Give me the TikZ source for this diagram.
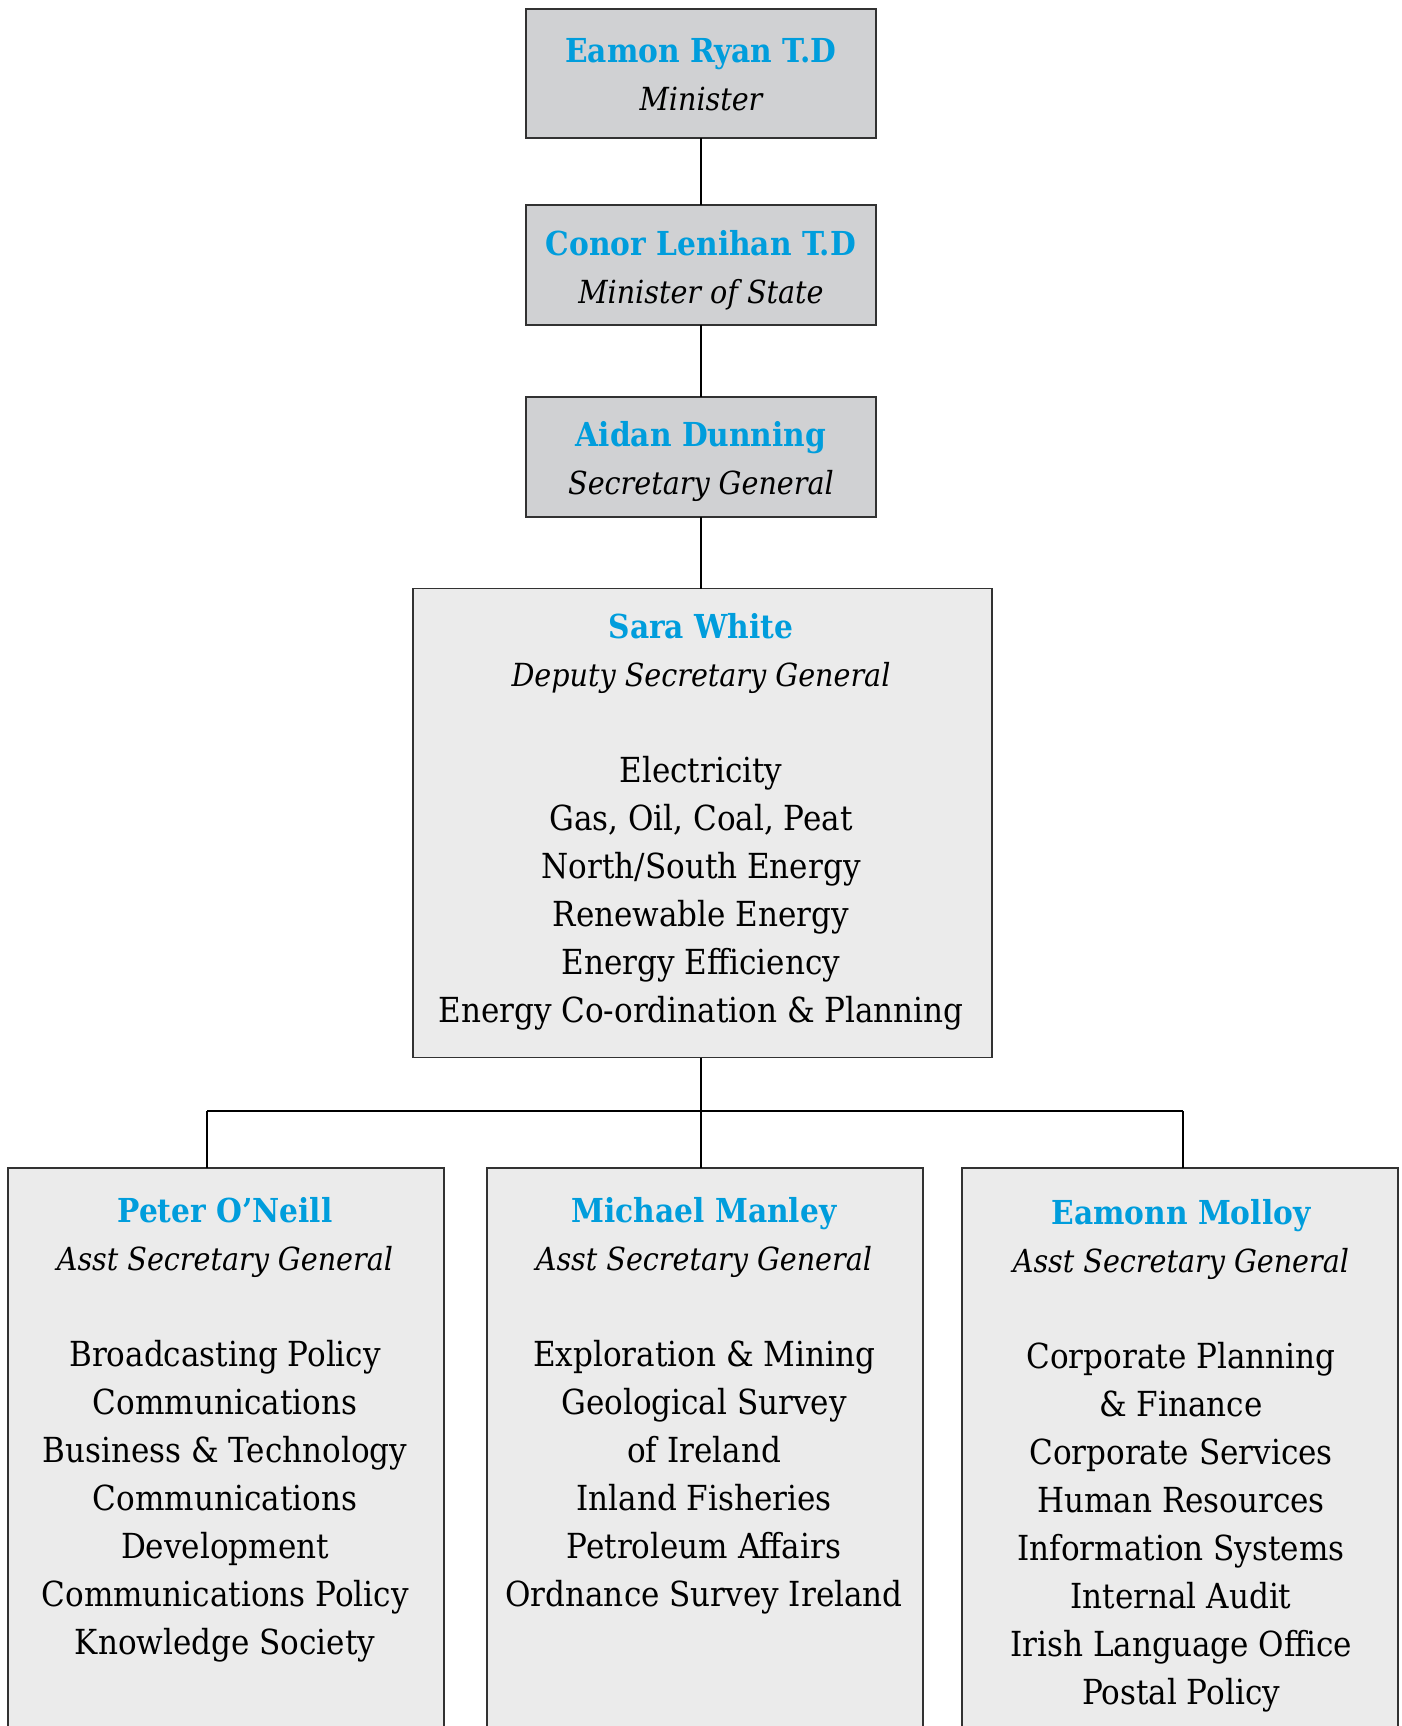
\documentclass[tikz,border=0pt]{standalone}
\usepackage{fontspec}
\setmainfont{DejaVu Serif Condensed}
\definecolor{nameblue}{RGB}{0,157,220}
\definecolor{topgray}{RGB}{208,209,211}
\definecolor{lowgray}{RGB}{235,235,235}
\definecolor{edgegray}{RGB}{50,50,50}
\newcommand\nm[1]{{\fontsize{33}{48}\selectfont\bfseries\color{nameblue}#1}}
\newcommand\ttl[1]{{\fontsize{31.8}{48}\selectfont\itshape #1}}
\begin{document}
\begin{tikzpicture}[x=1pt,y=-1pt,
  box/.style={draw=edgegray,line width=1.6pt,inner sep=0pt,outer sep=0pt},
  topbox/.style={box,fill=topgray},
  lowbox/.style={box,fill=lowgray},
  txt/.style={anchor=north,align=center,inner sep=0pt,font=\fontsize{34.5}{48}\selectfont},
  link/.style={draw=black,line width=2.4pt}]
\useasboundingbox (0,0) rectangle (1402,1726);
% boxes
\node[topbox,minimum width=350pt,minimum height=129pt] (b1) at (701,73.5) {};
\node[topbox,minimum width=350pt,minimum height=120pt] (b2) at (701,265) {};
\node[topbox,minimum width=350pt,minimum height=120pt] (b3) at (701,457) {};
\node[lowbox,minimum width=579pt,minimum height=469pt] (b4) at (702.5,588.5+234.5) {};
\node[lowbox,minimum width=436pt,minimum height=580pt] (b5) at (226,1168+290) {};
\node[lowbox,minimum width=436pt,minimum height=580pt] (b6) at (705,1168+290) {};
\node[lowbox,minimum width=436pt,minimum height=580pt] (b7) at (1180,1168+290) {};
% connectors
\coordinate (j) at (701,1111);
\coordinate (jl) at (207,1111);
\coordinate (jr) at (1183,1111);
\draw[link] (b1.south -| j) -- (b2.north -| j);
\draw[link] (b2.south -| j) -- (b3.north -| j);
\draw[link] (b3.south -| j) -- (b4.north -| j);
\draw[link] (b4.south -| j) -- (b6.north -| j);
\draw[link] (jl) -- (jr);
\draw[link] (jl) -- (jl |- b5.north);
\draw[link] (jr) -- (jr |- b7.north);
% texts
\node[txt] (t1) at (701,62-33.6) {\strut\nm{Eamon Ryan T.D}\\ \ttl{Minister}};
\node[txt] (t2) at (701,255-33.6) {\strut\nm{Conor Lenihan T.D}\\ \ttl{Minister of State}};
\node[txt] (t3) at (701,446-33.6) {\strut\nm{Aidan Dunning}\\ \ttl{Secretary General}};
\node[txt] (t4) at (701,638-33.6) {\strut\nm{Sara White}\\ \ttl{Deputy Secretary General}\\[48pt]
  Electricity\\ Gas, Oil, Coal, Peat\\ North/South Energy\\ Renewable Energy\\ Energy Efficiency\\ Energy Co-ordination \& Planning};
\node[txt] (t5) at (225,1222-33.6) {\strut\nm{Peter O’Neill}\\ \ttl{Asst Secretary General}\\[48pt]
  Broadcasting Policy\\ Communications\\ Business \& Technology\\ Communications\\ Development\\ Communications Policy\\ Knowledge Society};
\node[txt] (t6) at (704,1222-33.6) {\strut\nm{Michael Manley}\\ \ttl{Asst Secretary General}\\[48pt]
  Exploration \& Mining\\ Geological Survey\\ of Ireland\\ Inland Fisheries\\ Petroleum Affairs\\ Ordnance Survey Ireland};
\node[txt] (t7) at (1181,1224-33.6) {\strut\nm{Eamonn Molloy}\\ \ttl{Asst Secretary General}\\[48pt]
  Corporate Planning\\ \& Finance\\ Corporate Services\\ Human Resources\\ Information Systems\\ Internal Audit\\ Irish Language Office\\ Postal Policy};
\end{tikzpicture}
\end{document}
